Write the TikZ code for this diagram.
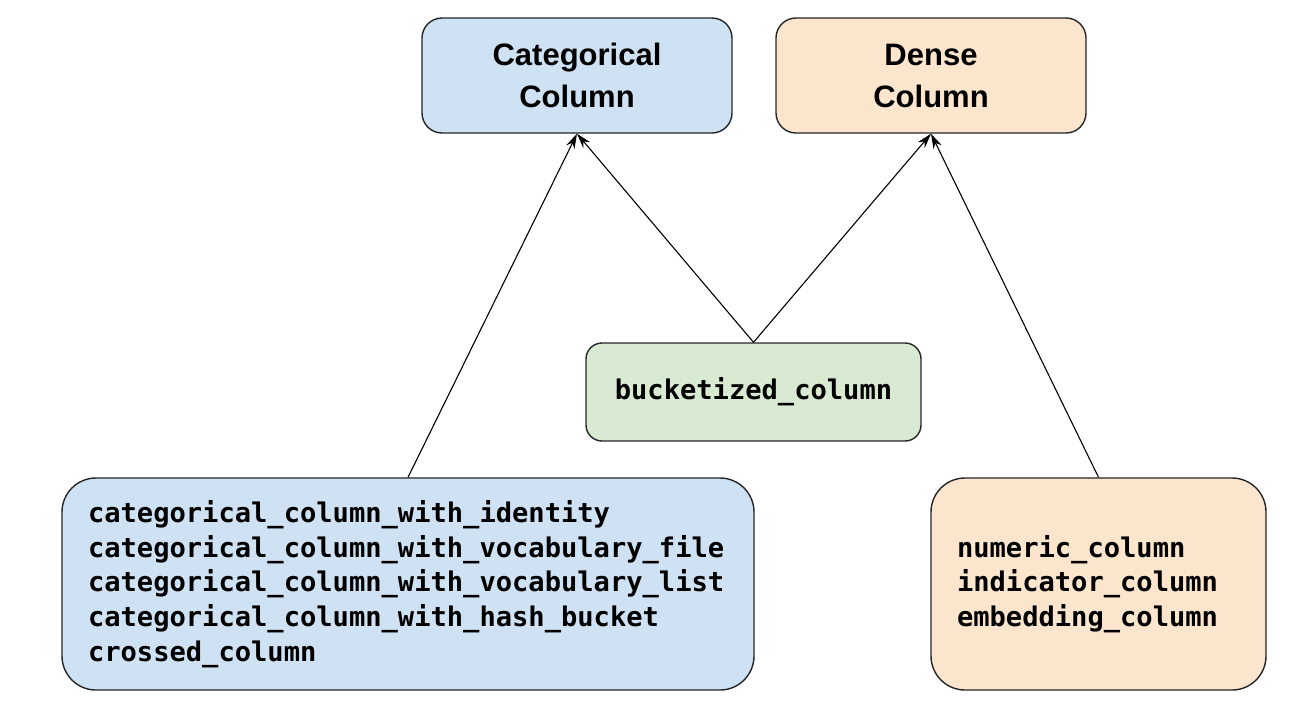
\documentclass[tikz,border=0pt]{standalone}
\usepackage{fontspec}
\usetikzlibrary{arrows.meta}
\newfontfamily\headfont{Liberation Sans}
\newfontfamily\codefont{DejaVu Sans Mono}
\definecolor{catblue}{HTML}{CFE2F3}
\definecolor{denseorange}{HTML}{FCE5CD}
\definecolor{bucketgreen}{HTML}{D9EAD3}

\begin{document}
\begin{tikzpicture}[x=1pt,y=-1pt,
  box/.style={draw=black!85,line width=1.4pt,rounded corners=20pt},
  head/.style={box,minimum width=310pt,minimum height=115pt,align=center,
    font=\headfont\bfseries\fontsize{31}{42}\selectfont},
  code/.style={box,rounded corners=34pt,inner xsep=26pt,minimum height=212pt,align=left,
    font=\codefont\bfseries\fontsize{27.1}{34.7}\selectfont},
  link/.style={line width=1.1pt,-{Stealth[length=15pt,width=9pt]}}]
\useasboundingbox (0,0) rectangle (1298,716);
\node[head,fill=catblue] (cat) at (577,75.5) {Categorical\\Column};
\node[head,fill=denseorange] (dense) at (931,75.5) {Dense\\Column};
\node[box,rounded corners=16pt,fill=bucketgreen,minimum width=335pt,minimum height=98pt,
  font=\codefont\bfseries\fontsize{27.1}{34.7}\selectfont] (bucket) at (753.5,392) {bucketized\_column};
\node[code,fill=catblue,text width=640pt] (catlist) at (408,584)
  {categorical\_column\_with\_identity\\
   categorical\_column\_with\_vocabulary\_file\\
   categorical\_column\_with\_vocabulary\_list\\
   categorical\_column\_with\_hash\_bucket\\
   crossed\_column};
\node[code,fill=denseorange,text width=283pt] (denselist) at (1098.5,584)
  {numeric\_column\\indicator\_column\\embedding\_column};
\draw[link] (catlist.north) -- (cat.south);
\draw[link] (bucket.north) -- (cat.south);
\draw[link] (bucket.north) -- (dense.south);
\draw[link] (denselist.north) -- (dense.south);
\end{tikzpicture}
\end{document}
